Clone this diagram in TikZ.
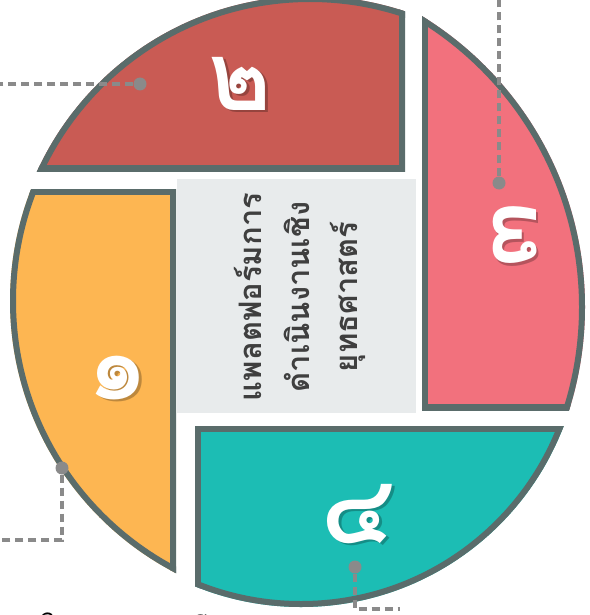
\documentclass[tikz,border=0pt]{standalone}
\usepackage{fontspec}
\newfontfamily\thaifont[Script=Thai]{Loma}
\usetikzlibrary{calc}
\definecolor{redc}{HTML}{C95B54}
\definecolor{pinkc}{HTML}{F2717D}
\definecolor{tealc}{HTML}{1CBDB4}
\definecolor{orangec}{HTML}{FDB652}
\definecolor{bordc}{HTML}{5A6C6B}
\definecolor{rectc}{HTML}{E8EBEC}
\definecolor{connc}{HTML}{8A8A8A}
\definecolor{txtc}{HTML}{3F3F3F}
\tikzset{
  border/.style={draw=bordc, line width=12pt},
  conn/.style={draw=connc, line width=3.3pt, dash pattern=on 8pt off 5pt},
  dotnode/.style={circle, fill=connc, inner sep=0pt, minimum size=13pt},
  numtxt/.style={text=white, inner sep=0pt, font=\thaifont\bfseries\fontsize{96}{96}\selectfont},
  numshadow/.style={text=black, opacity=0.25, inner sep=0pt, font=\thaifont\bfseries\fontsize{96}{96}\selectfont},
  fragtxt/.style={text=black, inner sep=0pt, font=\thaifont\fontsize{26}{26}\selectfont}
}
\begin{document}
\begin{tikzpicture}[x=1pt, y=-1pt]
\useasboundingbox (0,0) rectangle (589,615);
% central panel
\fill[rectc] (177,179) rectangle (416,413);
% red piece
\begin{scope}
  \clip (310,296) circle[radius=300pt];
  \clip (-40,-40) rectangle (405,171);
  \fill[redc] (-40,-40) rectangle (405,171);
  \draw[border] (310,296) circle[radius=300pt];
  \draw[border] (-40,-40) rectangle (405,171);
\end{scope}
% pink piece
\begin{scope}
  \clip (244,307) circle[radius=341pt];
  \clip (422,-40) rectangle (640,410);
  \fill[pinkc] (422,-40) rectangle (640,410);
  \draw[border] (244,307) circle[radius=341pt];
  \draw[border] (422,-40) rectangle (640,410);
\end{scope}
% teal piece
\begin{scope}
  \clip (301,326) circle[radius=281pt];
  \clip (195,426) rectangle (640,660);
  \fill[tealc] (195,426) rectangle (640,660);
  \draw[border] (301,326) circle[radius=281pt];
  \draw[border] (195,426) rectangle (640,660);
\end{scope}
% orange piece
\begin{scope}
  \clip (316,301) circle[radius=306pt];
  \clip (-40,189) rectangle (176,660);
  \fill[orangec] (-40,189) rectangle (176,660);
  \draw[border] (316,301) circle[radius=306pt];
  \draw[border] (-40,189) rectangle (176,660);
\end{scope}
% title
\node[rotate=90, align=center, text=txtc, font=\thaifont\bfseries\fontsize{31}{48}\selectfont] (title) at (300,297)
  {แพลตฟอร์มการ\\ดำเนินงานเชิง\\ยุทธศาสตร์};
% numerals with shadow
\node[numshadow] (n1s) at (121,380) {๑};
\node[numtxt] (n1) at (118,378) {๑};
\node[numshadow] (n2s) at (243,86) {๒};
\node[numtxt] (n2) at (240,84) {๒};
\node[numshadow, rotate=90] (n3s) at (517,238) {๓};
\node[numtxt, rotate=90] (n3) at (515,235) {๓};
\node[numshadow] (n4s) at (361,516) {๔};
\node[numtxt] (n4) at (358,514) {๔};
% connectors
\node[dotnode] (d2) at (140,84) {};
\coordinate (e2) at (-10,84);
\draw[conn] (d2) -- (e2);
\node[dotnode] (d3) at (499,183) {};
\coordinate (e3) at (499,-10);
\draw[conn] (d3) -- (e3);
\node[dotnode] (d1) at (62,468) {};
\coordinate (e1) at (-10,540);
\draw[conn] (d1) |- (e1);
\node[dotnode] (d4) at (355,567) {};
\coordinate (e4) at (400,609);
\draw[conn] (d4) |- (e4);
% partial labels at the bottom edge
\node[fragtxt] (f1) at (48,620) {ว};
\node[fragtxt] (f2) at (201,622) {ฮ};
\end{tikzpicture}
\end{document}
